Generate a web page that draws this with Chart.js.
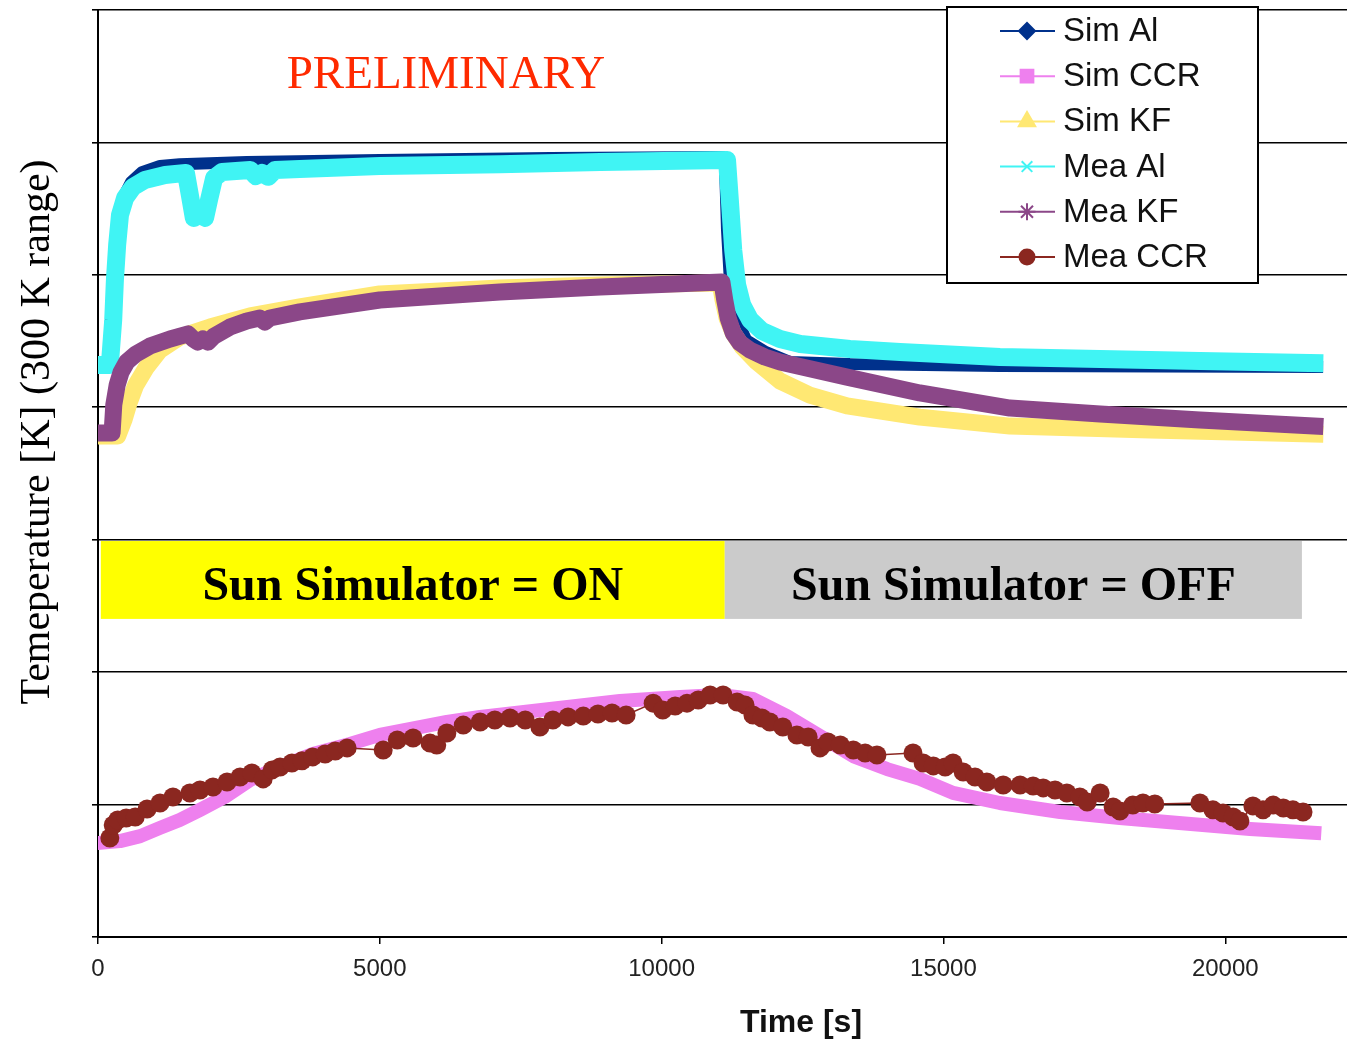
<!DOCTYPE html>
<html>
<head>
<meta charset="utf-8">
<script src="https://cdn.jsdelivr.net/npm/chart.js"></script>
<style>
  html, body { margin: 0; padding: 0; background: #fff; }
  #wrap { width: 1347px; height: 1040px; }
</style>
</head>
<body>
<div id="wrap"><canvas id="mainChart" width="1347" height="1040"></canvas></div>
<script>
// time in s, temperature in K (gridlines every 50 K)
const simAlTime = [0, 180, 250, 300, 370, 460, 590, 780, 1100, 1450, 2640, 5000, 8020, 11120, 11160, 11210, 11300, 11500, 11840, 12280, 13340, 16000, 21630]
const simAlTemp = [215.6, 215.6, 240.5, 259.4, 272.6, 279.8, 285.1, 288.8, 291.1, 291.8, 292.6, 293.4, 294.1, 294.5, 266.9, 248.1, 234.8, 225.4, 220.9, 217.1, 216.3, 215.6, 215.2]

const simCcrTime = [0, 390, 750, 1100, 1450, 1810, 2250, 2700, 3230, 3810, 4470, 5000, 6190, 6780, 8020, 9260, 10330, 11040, 11620, 12220, 12810, 13400, 14000, 14580, 15170, 16000, 17070, 18130, 18970, 20440, 21580]
const simCcrTemp = [35.5, 36.2, 38.1, 41.2, 44.2, 48.0, 52.9, 59.3, 64.2, 69.1, 72.9, 76.3, 81.2, 83.1, 86.1, 89.1, 90.6, 91.4, 89.9, 83.4, 75.9, 68.3, 63.4, 59.7, 54.4, 50.6, 47.2, 44.9, 43.4, 40.8, 39.3]

const simKfTime = [0, 350, 460, 550, 670, 850, 1100, 1450, 1990, 2700, 3580, 5000, 7130, 8910, 11040, 11090, 11160, 11270, 11430, 11690, 12100, 12630, 13290, 14580, 16180, 18670, 21590]
const simKfTemp = [189.2, 189.2, 195.2, 201.6, 208.4, 214.8, 221.6, 226.5, 230.3, 234.5, 237.9, 242.8, 245.0, 246.2, 246.9, 240.5, 233.7, 228.0, 222.8, 217.1, 209.9, 204.6, 200.5, 196.3, 192.9, 191.4, 189.9]

const meaAlTime = [0, 210, 270, 300, 340, 390, 480, 620, 830, 1190, 1560, 1630, 1700, 1770, 1830, 1900, 1970, 2060, 2200, 2700, 2800, 2910, 3020, 3140, 3580, 5000, 7130, 8910, 11160, 11210, 11270, 11340, 11430, 11570, 11780, 12100, 12460, 13340, 14230, 16000, 17780, 19550, 21580]
const meaAlTemp = [216.0, 216.0, 233.0, 248.1, 261.3, 272.6, 279.0, 283.2, 285.8, 287.7, 288.5, 280.1, 271.5, 274.5, 273.7, 271.5, 278.3, 286.6, 288.8, 289.6, 287.3, 288.5, 287.0, 289.6, 290.0, 291.1, 291.8, 292.6, 293.4, 278.3, 259.4, 246.2, 238.6, 233.0, 228.8, 225.8, 223.9, 222.0, 220.9, 219.0, 218.2, 217.5, 216.7]

const meaKfTime = [0, 250, 280, 340, 410, 510, 670, 920, 1280, 1600, 1690, 1770, 1860, 1950, 2060, 2340, 2640, 2870, 2960, 3050, 3580, 5000, 7130, 8910, 11070, 11120, 11180, 11270, 11390, 11570, 11830, 12100, 13290, 14580, 16180, 17780, 19550, 21590]
const meaKfTemp = [190.3, 190.3, 200.9, 208.4, 213.3, 217.1, 220.1, 223.1, 225.8, 227.7, 225.8, 224.6, 225.8, 224.6, 226.9, 230.3, 232.6, 233.7, 232.2, 233.7, 236.0, 240.5, 243.5, 245.4, 247.3, 240.5, 233.7, 228.0, 224.3, 221.6, 219.0, 217.1, 211.4, 205.4, 199.7, 197.5, 195.2, 192.9]

const meaCcrTime = [210, 270, 350, 500, 660, 870, 1100, 1330, 1630, 1810, 2040, 2290, 2520, 2730, 2930, 3090, 3230, 3440, 3620, 3810, 4030, 4210, 4420,
  5060, 5310, 5590, 5890, 6010, 6190, 6480, 6780, 7040, 7310, 7580, 7840, 8070, 8340, 8610, 8870, 9120, 9370,
  9850, 10020, 10240, 10450, 10650, 10860, 11090, 11340, 11480, 11620, 11780, 11920, 12150, 12400, 12600, 12810, 12950, 13170, 13400, 13610, 13820,
  14460, 14640, 14820, 15030, 15170, 15350, 15560, 15770, 16060, 16360, 16590, 16770, 16980, 17190, 17420, 17550, 17780, 18010, 18130, 18360, 18540, 18750,
  19550, 19780, 19960, 20140, 20260, 20490, 20670, 20850, 21030, 21200, 21380]
const meaCcrTemp = [37.4, 42.3, 44.2, 44.9, 45.3, 48.3, 50.6, 52.9, 54.4, 55.5, 56.6, 58.5, 60.4, 61.9, 59.7, 63.1, 64.2, 65.7, 66.5, 68.0, 69.1, 70.2, 71.4,
  70.6, 74.4, 75.1, 73.2, 72.5, 77.0, 80.0, 81.2, 81.9, 82.7, 81.9, 79.3, 81.9, 83.1, 83.4, 84.2, 84.6, 83.8,
  88.3, 85.7, 87.2, 88.3, 89.5, 91.4, 91.4, 88.7, 87.6, 83.8, 82.7, 81.2, 79.3, 76.3, 75.5, 71.4, 73.6, 72.5, 70.6, 69.5, 68.7,
  69.5, 65.7, 64.6, 64.2, 65.7, 62.3, 60.4, 58.5, 57.4, 57.4, 57.0, 56.3, 55.5, 54.4, 52.9, 51.0, 54.4, 49.1, 47.6, 49.8, 50.6, 50.2,
  50.6, 48.0, 46.8, 45.3, 43.8, 49.5, 48.0, 49.8, 48.7, 48.0, 47.2]

const xTicks = [0, 5000, 10000, 15000, 20000]

// sun simulator phases (time range in s) and the K band the labels sit in
const sunOn = [50, 11120]
const sunOff = [11120, 21360]
const sunBand = [120.1, 149.5]

const toPoints = (xs, ys) => xs.map((t, i) => ({ x: t, y: ys[i] }))

const band = (label, xs, ys, color, width, marker, order) => ({
    label: label,
    data: toPoints(xs, ys),
    borderColor: color,
    backgroundColor: color,
    borderWidth: width,
    borderCapStyle: 'square',
    borderJoinStyle: 'round',
    pointRadius: 0,
    pointStyle: marker,
    order: order
})

const datasets = [
    band('Sim Al', simAlTime, simAlTemp, '#00318c', 12, 'rectRot', 6),
    band('Sim CCR', simCcrTime, simCcrTemp, '#ee80ee', 14, 'rect', 5),
    band('Sim KF', simKfTime, simKfTemp, '#ffe873', 17, 'triangle', 4),
    band('Mea Al', meaAlTime, meaAlTemp, '#40f4f4', 18, 'crossRot', 3),
    band('Mea KF', meaKfTime, meaKfTemp, '#8b4788', 17, 'star', 2),
    {
        label: 'Mea CCR',
        data: toPoints(meaCcrTime, meaCcrTemp),
        borderColor: '#8b2720',
        backgroundColor: '#8b2720',
        borderWidth: 1.5,
        pointRadius: 9.5,
        pointBorderWidth: 0,
        pointBackgroundColor: '#8b2720',
        pointStyle: 'circle',
        order: 1
    }
]

const serif = '"Liberation Serif", "Times New Roman", serif'
const sans = '"Liberation Sans", Arial, sans-serif'

const overlay = {
    id: 'overlay',
    beforeDatasetsDraw(chart) {
        const { ctx, scales: { x, y } } = chart
        const top = y.getPixelForValue(sunBand[1])
        const bottom = y.getPixelForValue(sunBand[0])
        const boxes = [
            { range: sunOn, color: '#ffff00', text: 'Sun Simulator = ON' },
            { range: sunOff, color: '#cbcbcb', text: 'Sun Simulator = OFF' }
        ]
        ctx.save()
        boxes.forEach(b => {
            const l = x.getPixelForValue(b.range[0])
            const r = x.getPixelForValue(b.range[1])
            ctx.fillStyle = b.color
            ctx.fillRect(l, top, r - l, bottom - top)
            ctx.fillStyle = '#000'
            ctx.font = 'bold 48px ' + serif
            ctx.textAlign = 'center'
            ctx.textBaseline = 'alphabetic'
            ctx.fillText(b.text, (l + r) / 2, bottom - 19)
        })
        ctx.restore()
    },
    afterDraw(chart) {
        const ctx = chart.ctx
        ctx.save()
        // PRELIMINARY stamp
        ctx.fillStyle = '#ff2a00'
        ctx.font = '47px ' + serif
        ctx.textAlign = 'center'
        ctx.textBaseline = 'alphabetic'
        ctx.fillText('PRELIMINARY', 446, 88)

        // axis titles
        ctx.fillStyle = '#000'
        ctx.font = '42px ' + serif
        ctx.save()
        ctx.translate(49, 432)
        ctx.rotate(-Math.PI / 2)
        ctx.fillText('Temeperature [K] (300 K range)', 0, 0)
        ctx.restore()
        ctx.fillStyle = '#111'
        ctx.font = 'bold 32px ' + sans
        ctx.fillText('Time [s]', 801, 1032)

        // legend box
        ctx.fillStyle = '#fff'
        ctx.fillRect(947, 7, 311, 276)
        ctx.strokeStyle = '#000'
        ctx.lineWidth = 2
        ctx.strokeRect(947, 7, 311, 276)
        const sizes = { rectRot: 8, rect: 9, triangle: 9.5, crossRot: 7.5, star: 8.5, circle: 7.5 }
        chart.data.datasets.forEach((ds, i) => {
            const cy = 31 + i * 45.2
            ctx.strokeStyle = ds.borderColor
            ctx.fillStyle = ds.borderColor
            ctx.lineWidth = 2
            ctx.beginPath()
            ctx.moveTo(1000, cy)
            ctx.lineTo(1055, cy)
            ctx.stroke()
            if (Chart.helpers && Chart.helpers.drawPoint) {
                Chart.helpers.drawPoint(ctx, { pointStyle: ds.pointStyle, radius: sizes[ds.pointStyle], rotation: 0, borderWidth: 2 }, 1027, cy)
            }
            ctx.fillStyle = '#111'
            ctx.font = '33px ' + sans
            ctx.textAlign = 'left'
            ctx.textBaseline = 'middle'
            ctx.fillText(ds.label, 1063, cy + 1)
        })
        ctx.restore()
    }
}

new Chart(document.getElementById('mainChart'), {
    type: 'line',
    data: { datasets: datasets },
    options: {
        responsive: false,
        animation: false,
        events: [],
        layout: { autoPadding: false, padding: { top: 10, right: 0, left: 0, bottom: 0 } },
        plugins: {
            legend: { display: false },
            tooltip: { enabled: false }
        },
        scales: {
            x: {
                type: 'linear',
                min: 0,
                max: 22160,
                afterFit: (s) => { s.height = 103 },
                afterBuildTicks: (s) => { s.ticks = xTicks.map(v => ({ value: v })) },
                grid: { drawOnChartArea: false, drawTicks: true, tickLength: 7, color: '#000', lineWidth: 1.5 },
                border: { display: true, color: '#000', width: 2 },
                ticks: {
                    padding: 11,
                    maxRotation: 0,
                    color: '#222',
                    font: { family: sans, size: 24 },
                    callback: (v) => String(v)
                }
            },
            y: {
                min: 0,
                max: 350,
                afterFit: (s) => { s.width = 98 },
                grid: { color: '#000', lineWidth: 1.6, drawTicks: true, tickLength: 6 },
                border: { display: true, color: '#000', width: 2 },
                ticks: { stepSize: 50, display: false }
            }
        }
    },
    plugins: [overlay]
})
</script>
</body>
</html>
